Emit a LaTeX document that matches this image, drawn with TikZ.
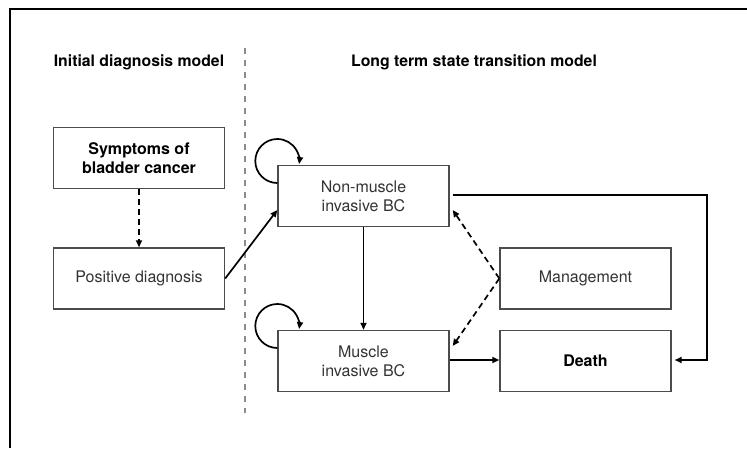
\documentclass[tikz,border=0pt]{standalone}
\usepackage{fontspec}
\setmainfont{TeX Gyre Heros}
\usetikzlibrary{arrows.meta}
\begin{document}
\begin{tikzpicture}[x=1pt,y=-1pt,
  box/.style={draw=black!70,line width=1.4pt,rectangle,minimum width=171pt,minimum height=61pt,inner sep=2pt,align=center,text=black!80,font=\fontsize{16}{19}\selectfont},
  boldbox/.style={box,text=black,font=\fontsize{16}{19}\selectfont\bfseries},
  title/.style={font=\fontsize{15.8}{19}\selectfont\bfseries,text=black},
  arr/.style={line width=1.7pt,-{Triangle[length=7pt,width=6pt]}},
  darr/.style={arr,dash pattern=on 6pt off 4pt}]
\useasboundingbox (0,0) rectangle (747,448);
% frame (top and left edges)
\draw[line width=2.8pt] (10,448) -- (10,9) -- (747,9);
% divider
\draw[black!45,line width=1.3pt,dash pattern=on 6pt off 6pt] (245,48) -- (245,413);
% titles
\node[title] (t1) at (139,62) {Initial diagnosis model};
\node[title] (t2) at (474,62) {Long term state transition model};
% boxes
\node[boldbox] (sym) at (139,158) {Symptoms of\\bladder cancer};
\node[box] (pos) at (139,278.5) {Positive diagnosis};
\node[box] (nmi) at (363.5,196) {Non-muscle\\invasive BC};
\node[box] (mi) at (363.5,361) {Muscle\\invasive BC};
\node[box] (mg) at (585.5,278.5) {Management};
\node[boldbox] (de) at (585.5,361) {Death};
% connectors
\draw[darr] (sym.south) -- (pos.north);
\draw[arr] (pos.east) -- ([yshift=-14pt]nmi.west);
\draw[arr] (nmi.south) -- (mi.north);
\draw[arr] ([yshift=1pt]mi.east) -- ([yshift=1pt]de.west);
\draw[arr] ([xshift=3pt,yshift=1pt]nmi.east) -- ++(254,0) |- ([xshift=3pt,yshift=1pt]de.east);
\draw[darr] (mg.west) -- ([shift={(3pt,-14pt)}]nmi.east);
\draw[darr] (mg.west) -- ([shift={(3pt,15pt)}]mi.east);
% self loops
\draw[arr] ([yshift=13pt]nmi.west) arc[start angle=270,end angle=-8,radius=22pt];
\draw[arr] ([yshift=13pt]mi.west) arc[start angle=270,end angle=-8,radius=22pt];
\end{tikzpicture}
\end{document}
